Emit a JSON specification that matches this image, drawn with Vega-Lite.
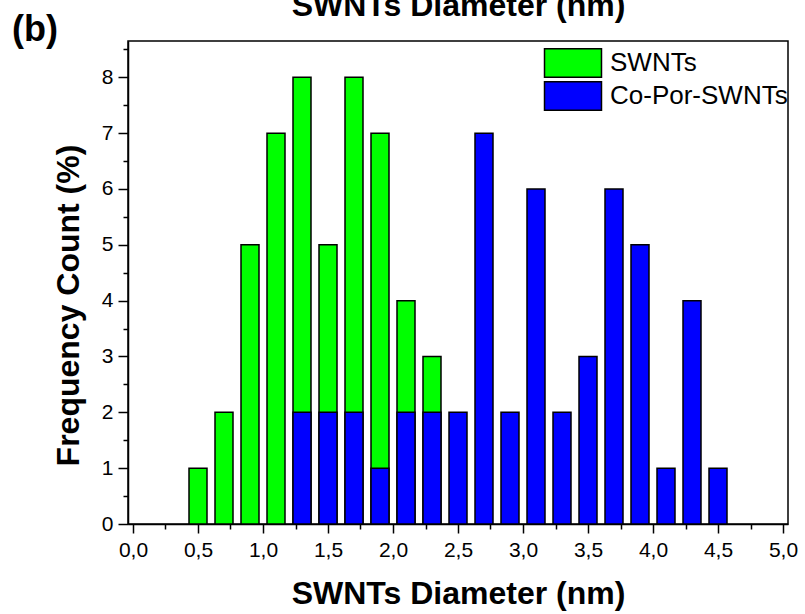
{
  "$schema": "https://vega.github.io/schema/vega-lite/v6.json",
  "autosize": {"type": "none"},
  "padding": {"left": 128, "top": 41, "right": 17, "bottom": 90},
  "width": 660,
  "height": 483,
  "background": "white",
  "config": {
    "font": "Liberation Sans",
    "view": {"stroke": "black", "strokeWidth": 1.5},
    "axis": {"domainColor": "black", "tickColor": "black", "labelColor": "black", "titleColor": "black", "grid": false, "domainWidth": 1.5, "tickWidth": 1.5, "labelFont": "Liberation Sans", "titleFont": "Liberation Sans"}
  },
  "title": {"text": "(b)", "anchor": "start", "frame": "group", "fontSize": 36, "fontWeight": "bold", "font": "Liberation Sans", "color": "black", "dx": -116, "dy": 60, "offset": 0},
  "data": {
    "values": [
      {"d": 0.5, "f": 1, "s": "SWNTs"},
      {"d": 0.7, "f": 2, "s": "SWNTs"},
      {"d": 0.9, "f": 5, "s": "SWNTs"},
      {"d": 1.1, "f": 7, "s": "SWNTs"},
      {"d": 1.3, "f": 8, "s": "SWNTs"},
      {"d": 1.5, "f": 5, "s": "SWNTs"},
      {"d": 1.7, "f": 8, "s": "SWNTs"},
      {"d": 1.9, "f": 7, "s": "SWNTs"},
      {"d": 2.1, "f": 4, "s": "SWNTs"},
      {"d": 2.3, "f": 3, "s": "SWNTs"},
      {"d": 1.3, "f": 2, "s": "Co-Por-SWNTs"},
      {"d": 1.5, "f": 2, "s": "Co-Por-SWNTs"},
      {"d": 1.7, "f": 2, "s": "Co-Por-SWNTs"},
      {"d": 1.9, "f": 1, "s": "Co-Por-SWNTs"},
      {"d": 2.1, "f": 2, "s": "Co-Por-SWNTs"},
      {"d": 2.3, "f": 2, "s": "Co-Por-SWNTs"},
      {"d": 2.5, "f": 2, "s": "Co-Por-SWNTs"},
      {"d": 2.7, "f": 7, "s": "Co-Por-SWNTs"},
      {"d": 2.9, "f": 2, "s": "Co-Por-SWNTs"},
      {"d": 3.1, "f": 6, "s": "Co-Por-SWNTs"},
      {"d": 3.3, "f": 2, "s": "Co-Por-SWNTs"},
      {"d": 3.5, "f": 3, "s": "Co-Por-SWNTs"},
      {"d": 3.7, "f": 6, "s": "Co-Por-SWNTs"},
      {"d": 3.9, "f": 5, "s": "Co-Por-SWNTs"},
      {"d": 4.1, "f": 1, "s": "Co-Por-SWNTs"},
      {"d": 4.3, "f": 4, "s": "Co-Por-SWNTs"},
      {"d": 4.5, "f": 1, "s": "Co-Por-SWNTs"}
    ]
  },
  "resolve": {"axis": {"x": "independent", "y": "independent"}},
  "layer": [
    {
      "mark": {"type": "bar", "width": 18, "stroke": "black", "strokeWidth": 1.5},
      "encoding": {
        "x": {
          "field": "d", "type": "quantitative",
          "scale": {"domain": [0, 5], "nice": false, "zero": false},
          "axis": {
            "orient": "bottom",
            "values": [0, 0.5, 1, 1.5, 2, 2.5, 3, 3.5, 4, 4.5, 5],
            "labelExpr": "replace(format(datum.value, '.1f'), '.', ',')",
            "tickSize": 9,
            "labelFontSize": 21,
            "labelPadding": 6,
            "labelFlush": false,
            "labelOverlap": false,
            "title": "SWNTs Diameter (nm)",
            "titleFontSize": 32,
            "titleFontWeight": "bold",
            "titlePadding": 18
          }
        },
        "y": {
          "field": "f", "type": "quantitative", "stack": null,
          "scale": {"domain": [0, 8.65], "nice": false},
          "axis": {
            "orient": "left",
            "values": [0, 1, 2, 3, 4, 5, 6, 7, 8],
            "tickSize": 10,
            "labelFontSize": 21,
            "labelPadding": 5,
            "labelOverlap": false,
            "labelFlush": false,
            "title": "Frequency Count (%)",
            "titleFontSize": 32,
            "titleFontWeight": "bold",
            "titlePadding": 16,
            "titleY": 264
          }
        },
        "color": {
          "field": "s", "type": "nominal",
          "scale": {"domain": ["SWNTs", "Co-Por-SWNTs"], "range": ["#00ff00", "#0000ff"]},
          "legend": {
            "orient": "none", "legendX": 430, "legendY": 7, "title": null,
            "symbolType": "M-2,-1H2V1H-2Z", "symbolSize": 812,
            "symbolStrokeColor": "black", "symbolStrokeWidth": 1.5,
            "labelFontSize": 26, "labelFont": "Liberation Sans", "labelColor": "black",
            "labelOffset": 22, "rowPadding": -5.5, "padding": 0, "labelLimit": 300
          }
        }
      }
    },
    {
      "mark": {"type": "point", "opacity": 0},
      "encoding": {
        "x": {
          "field": "d", "type": "quantitative",
          "axis": {"orient": "bottom", "values": [0.25, 0.75, 1.25, 1.75, 2.25, 2.75, 3.25, 3.75, 4.25, 4.75], "labels": false, "domain": false, "grid": false, "tickSize": 5, "title": null}
        },
        "y": {
          "field": "f", "type": "quantitative",
          "axis": {"orient": "left", "values": [0.5, 1.5, 2.5, 3.5, 4.5, 5.5, 6.5, 7.5, 8.5], "labels": false, "domain": false, "grid": false, "tickSize": 5, "title": null}
        }
      }
    },
    {
      "mark": {"type": "point", "opacity": 0},
      "encoding": {
        "x": {
          "field": "d", "type": "quantitative",
          "axis": {"orient": "top", "labels": false, "ticks": false, "domain": false, "grid": false, "title": "SWNTs Diameter (nm)", "titleFontSize": 32, "titleFontWeight": "bold", "titlePadding": 19}
        }
      }
    }
  ]
}
